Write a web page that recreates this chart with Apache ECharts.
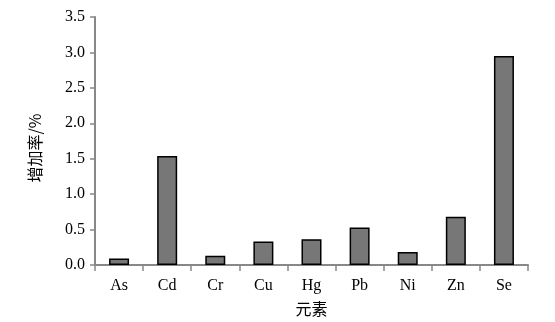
<!DOCTYPE html>
<html>
<head>
<meta charset="utf-8">
<script src="https://cdn.jsdelivr.net/npm/echarts@6/dist/echarts.min.js"></script>
<style>html,body{margin:0;padding:0;background:#fff;}#c{width:555px;height:322px;}</style>
</head>
<body>
<div id="c"></div>
<script>
var categories = ['As', 'Cd', 'Cr', 'Cu', 'Hg', 'Pb', 'Ni', 'Zn', 'Se'];
var values = [0.09, 1.54, 0.13, 0.33, 0.365, 0.53, 0.185, 0.68, 2.95];
var yTicks = [0, 0.5, 1.0, 1.5, 2.0, 2.5, 3.0, 3.5];
var xName = '元素';
var yName = '增加率/%';

var chart = echarts.init(document.getElementById('c'), null, {renderer: 'canvas'});
var serif = '"Liberation Serif", "Times New Roman", serif';
var cjk = '"Noto Sans CJK SC", sans-serif';
chart.setOption({
  animation: false,
  backgroundColor: '#ffffff',
  grid: {left: 95, right: 27, top: 17, bottom: 53, containLabel: false},
  xAxis: {
    type: 'category',
    data: categories,
    name: xName,
    nameLocation: 'middle',
    nameGap: 36,
    nameTextStyle: {fontFamily: cjk, fontSize: 16, color: '#000'},
    axisLine: {lineStyle: {color: '#888', width: 2}},
    axisTick: {show: true, alignWithLabel: false, length: 6, lineStyle: {color: '#888', width: 1.5}},
    axisLabel: {fontFamily: serif, fontSize: 16, color: '#000', margin: 13},
    splitLine: {show: false}
  },
  yAxis: {
    type: 'value',
    min: 0,
    max: 3.5,
    interval: 0.5,
    name: yName,
    nameLocation: 'middle',
    nameGap: 52,
    nameRotate: 90,
    nameTextStyle: {fontFamily: cjk, fontSize: 16, color: '#000', padding: [0, 14, 0, 0]},
    axisLine: {show: true, lineStyle: {color: '#888', width: 2}},
    axisTick: {show: true, length: 5, lineStyle: {color: '#888', width: 1.5}},
    axisLabel: {fontFamily: serif, fontSize: 16, color: '#000', margin: 10,
      formatter: function (v) { return v.toFixed(1); }},
    splitLine: {show: false}
  },
  series: [{
    type: 'bar',
    data: values,
    barWidth: 20,
    itemStyle: {color: '#777777', borderColor: '#000', borderWidth: 1.5}
  }]
});
</script>
</body>
</html>
